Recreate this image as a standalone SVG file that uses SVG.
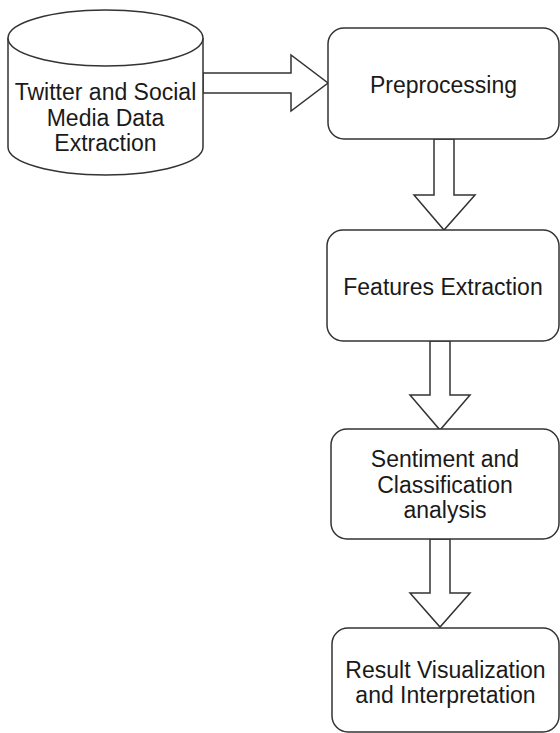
<svg xmlns="http://www.w3.org/2000/svg" width="560" height="733" viewBox="0 0 560 733">
  <style>
    .shape { fill: #ffffff; stroke: #333333; stroke-width: 1.5; }
    .arrow { fill: #ffffff; stroke: #333333; stroke-width: 1.5; stroke-linejoin: miter; }
    .label { font-family: "Liberation Sans", Arial, sans-serif; font-size: 23px; fill: #1a1a1a; text-anchor: middle; }
  </style>
  <rect x="0" y="0" width="560" height="733" fill="#ffffff"/>

  <g id="connectors">
    <polygon class="arrow" points="203,73 291,73 291,55 328,83 291,111 291,93 203,93"/>
    <polygon class="arrow" points="434,139 454,139 454,195 475,195 444,230 414,195 434,195"/>
    <polygon class="arrow" points="430,341 450,341 450,395 470,395 440,430 410,395 430,395"/>
    <polygon class="arrow" points="430,539 450,539 450,593 470,593 440,627 410,593 430,593"/>
  </g>

  <g id="node-twitter">
    <path class="shape" d="M8,38 A97.5,28 0 0 1 203,38 L203,147 A97.5,28 0 0 1 8,147 Z"/>
    <path class="shape" fill="none" d="M8,38 A97.5,28 0 0 0 203,38"/>
    <text class="label" x="105.5" y="100">Twitter and Social</text>
    <text class="label" x="105.5" y="126">Media Data</text>
    <text class="label" x="105.5" y="151">Extraction</text>
  </g>

  <g id="node-preprocessing">
    <rect class="shape" x="328" y="28" width="231" height="111" rx="16" ry="16"/>
    <text class="label" x="443.5" y="93">Preprocessing</text>
  </g>

  <g id="node-features">
    <rect class="shape" x="327" y="230" width="232" height="111" rx="16" ry="16"/>
    <text class="label" x="443" y="295">Features Extraction</text>
  </g>

  <g id="node-sentiment">
    <rect class="shape" x="331" y="429" width="228" height="110" rx="16" ry="16"/>
    <text class="label" x="445" y="467">Sentiment and</text>
    <text class="label" x="445" y="493">Classification</text>
    <text class="label" x="445" y="518">analysis</text>
  </g>

  <g id="node-result">
    <rect class="shape" x="332" y="628" width="227" height="104" rx="16" ry="16"/>
    <text class="label" x="445.5" y="678">Result Visualization</text>
    <text class="label" x="445.5" y="703">and Interpretation</text>
  </g>
</svg>
